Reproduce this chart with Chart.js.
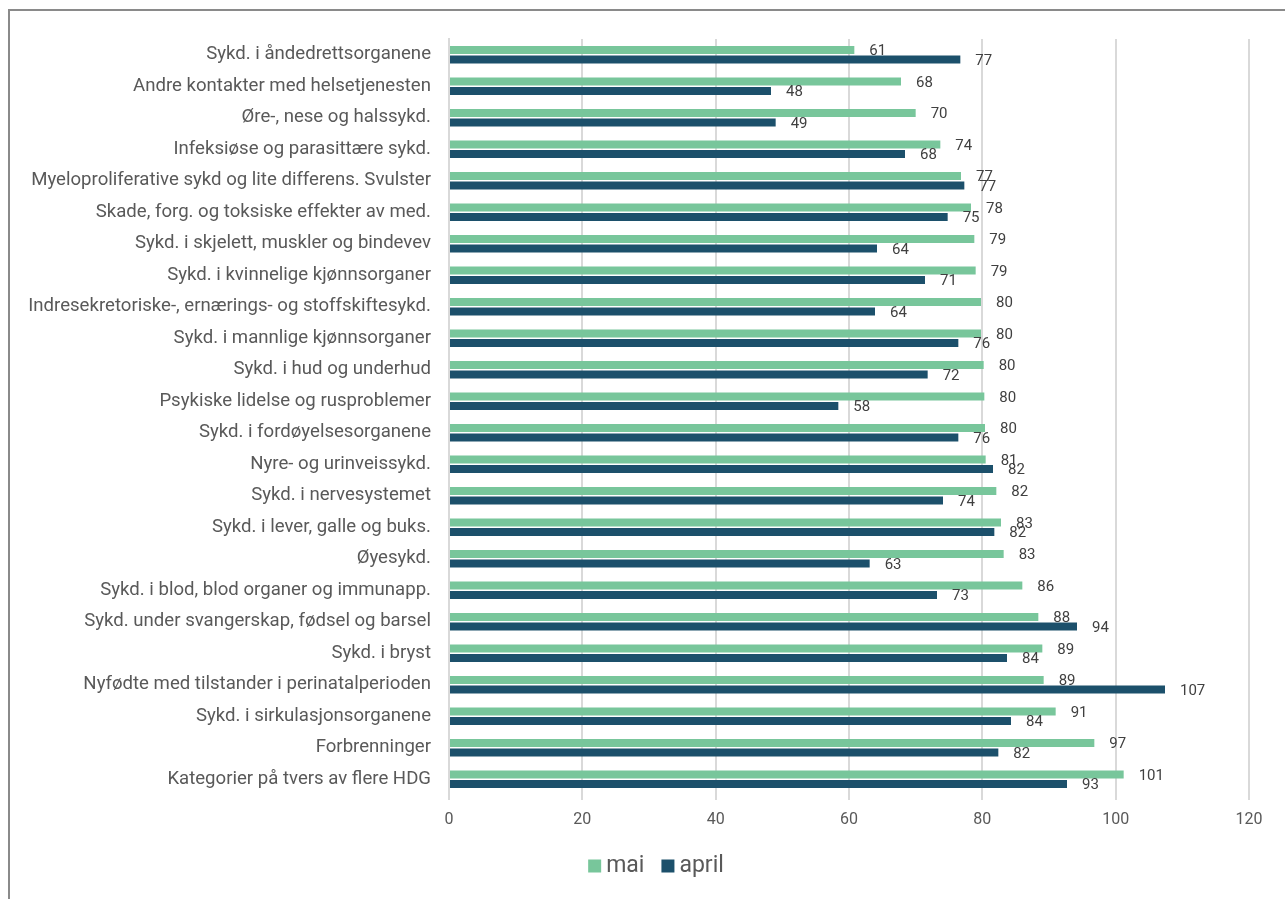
<!DOCTYPE html>
<html>
<head>
<meta charset="utf-8">
<script src="https://cdn.jsdelivr.net/npm/chart.js@4/dist/chart.umd.min.js"></script>
<style>
html,body{margin:0;padding:0;background:#fff;}
#wrap{position:relative;width:1285px;height:899px;}
#frame{position:absolute;left:8px;top:9px;right:0;bottom:0;border-left:2px solid #8a8a8a;border-top:2px solid #8a8a8a;pointer-events:none;}
canvas{position:absolute;left:0;top:0;}
</style>
</head>
<body>
<div id="wrap">
<canvas id="c" width="1285" height="899"></canvas>
<div id="frame"></div>
</div>
<script>
const categories = [
  "Sykd. i åndedrettsorganene",
  "Andre kontakter med helsetjenesten",
  "Øre-, nese og halssykd.",
  "Infeksiøse og parasittære sykd.",
  "Myeloproliferative sykd og lite differens. Svulster",
  "Skade, forg. og toksiske effekter av med.",
  "Sykd. i skjelett, muskler og bindevev",
  "Sykd. i kvinnelige kjønnsorganer",
  "Indresekretoriske-, ernærings- og stoffskiftesykd.",
  "Sykd. i mannlige kjønnsorganer",
  "Sykd. i hud og underhud",
  "Psykiske lidelse og rusproblemer",
  "Sykd. i fordøyelsesorganene",
  "Nyre- og urinveissykd.",
  "Sykd. i nervesystemet",
  "Sykd. i lever, galle og buks.",
  "Øyesykd.",
  "Sykd. i blod, blod organer og immunapp.",
  "Sykd. under svangerskap, fødsel og barsel",
  "Sykd. i bryst",
  "Nyfødte med tilstander i perinatalperioden",
  "Sykd. i sirkulasjonsorganene",
  "Forbrenninger",
  "Kategorier på tvers av flere HDG"
];
const maiValues = [60.8,67.8,70,73.7,76.8,78.3,78.8,79,79.8,79.8,80.2,80.3,80.4,80.5,82.1,82.8,83.2,86,88.4,89,89.2,91,96.8,101.2];
const aprilValues = [76.7,48.3,49,68.4,77.3,74.8,64.2,71.4,63.9,76.4,71.8,58.4,76.4,81.6,74.1,81.8,63.1,73.2,94.2,83.7,107.4,84.3,82.4,92.7];
const seriesNames = ["mai","april"];
const seriesColors = ["#78c69b","#1c506b"];
const xTicks = [0,20,40,60,80,100,120];

const FONT = "Roboto, 'Noto Sans', sans-serif";

const labelPlugin = {
  id: 'valueLabels',
  afterDatasetsDraw(chart) {
    const ctx = chart.ctx;
    ctx.save();
    ctx.font = "15px " + FONT;
    ctx.fillStyle = "#404040";
    ctx.textAlign = "left";
    ctx.textBaseline = "middle";
    chart.data.datasets.forEach((ds, di) => {
      const meta = chart.getDatasetMeta(di);
      meta.data.forEach((bar, i) => {
        ctx.fillText(String(Math.round(ds.data[i])), bar.x + 15, bar.y + 1.5);
      });
    });
    ctx.restore();
  }
};

const legendPlugin = {
  id: 'customLegend',
  afterDraw(chart) {
    const ctx = chart.ctx;
    ctx.save();
    ctx.font = "23px " + FONT;
    ctx.textBaseline = "middle";
    ctx.textAlign = "left";
    const box = 13, gap = 5, itemGap = 17, cy = 866, cx = 656;
    const items = chart.data.datasets.map(d => ({ text: d.label, color: d.backgroundColor, w: ctx.measureText(d.label).width }));
    let total = 0;
    items.forEach((it, i) => { total += box + gap + it.w + (i ? itemGap : 0); });
    let x = cx - total / 2;
    items.forEach((it) => {
      ctx.fillStyle = it.color;
      ctx.fillRect(x, cy - box / 2, box, box);
      x += box + gap;
      ctx.fillStyle = "#595959";
      ctx.fillText(it.text, x, cy);
      x += it.w + itemGap;
    });
    ctx.restore();
  }
};

new Chart(document.getElementById('c'), {
  type: 'bar',
  data: {
    labels: categories,
    datasets: [
      { label: seriesNames[0], data: maiValues, backgroundColor: seriesColors[0] },
      { label: seriesNames[1], data: aprilValues, backgroundColor: seriesColors[1] }
    ]
  },
  options: {
    indexAxis: 'y',
    responsive: false,
    animation: false,
    devicePixelRatio: 1,
    categoryPercentage: 0.6,
    barPercentage: 0.85,
    layout: { padding: { left: 0, right: 36, top: 39, bottom: 53 } },
    plugins: {
      legend: { display: false },
      tooltip: { enabled: false }
    },
    scales: {
      x: {
        min: 0, max: 120,
        afterBuildTicks(s) { s.ticks = xTicks.map(v => ({ value: v })); },
        afterFit(s) { s.height = 51; },
        grid: { color: '#d9d9d9', lineWidth: 2, drawTicks: true, tickLength: 5 },
        border: { display: false },
        ticks: { font: { family: FONT, size: 16 }, color: '#595959', padding: 10 }
      },
      y: {
        afterFit(s) { s.width = 449; },
        grid: { display: false },
        border: { display: true, color: '#d9d9d9', width: 2 },
        ticks: { font: { family: FONT, size: 18.6 }, color: '#595959', padding: 10, autoSkip: false }
      }
    }
  },
  plugins: [labelPlugin, legendPlugin]
});
</script>
</body>
</html>
